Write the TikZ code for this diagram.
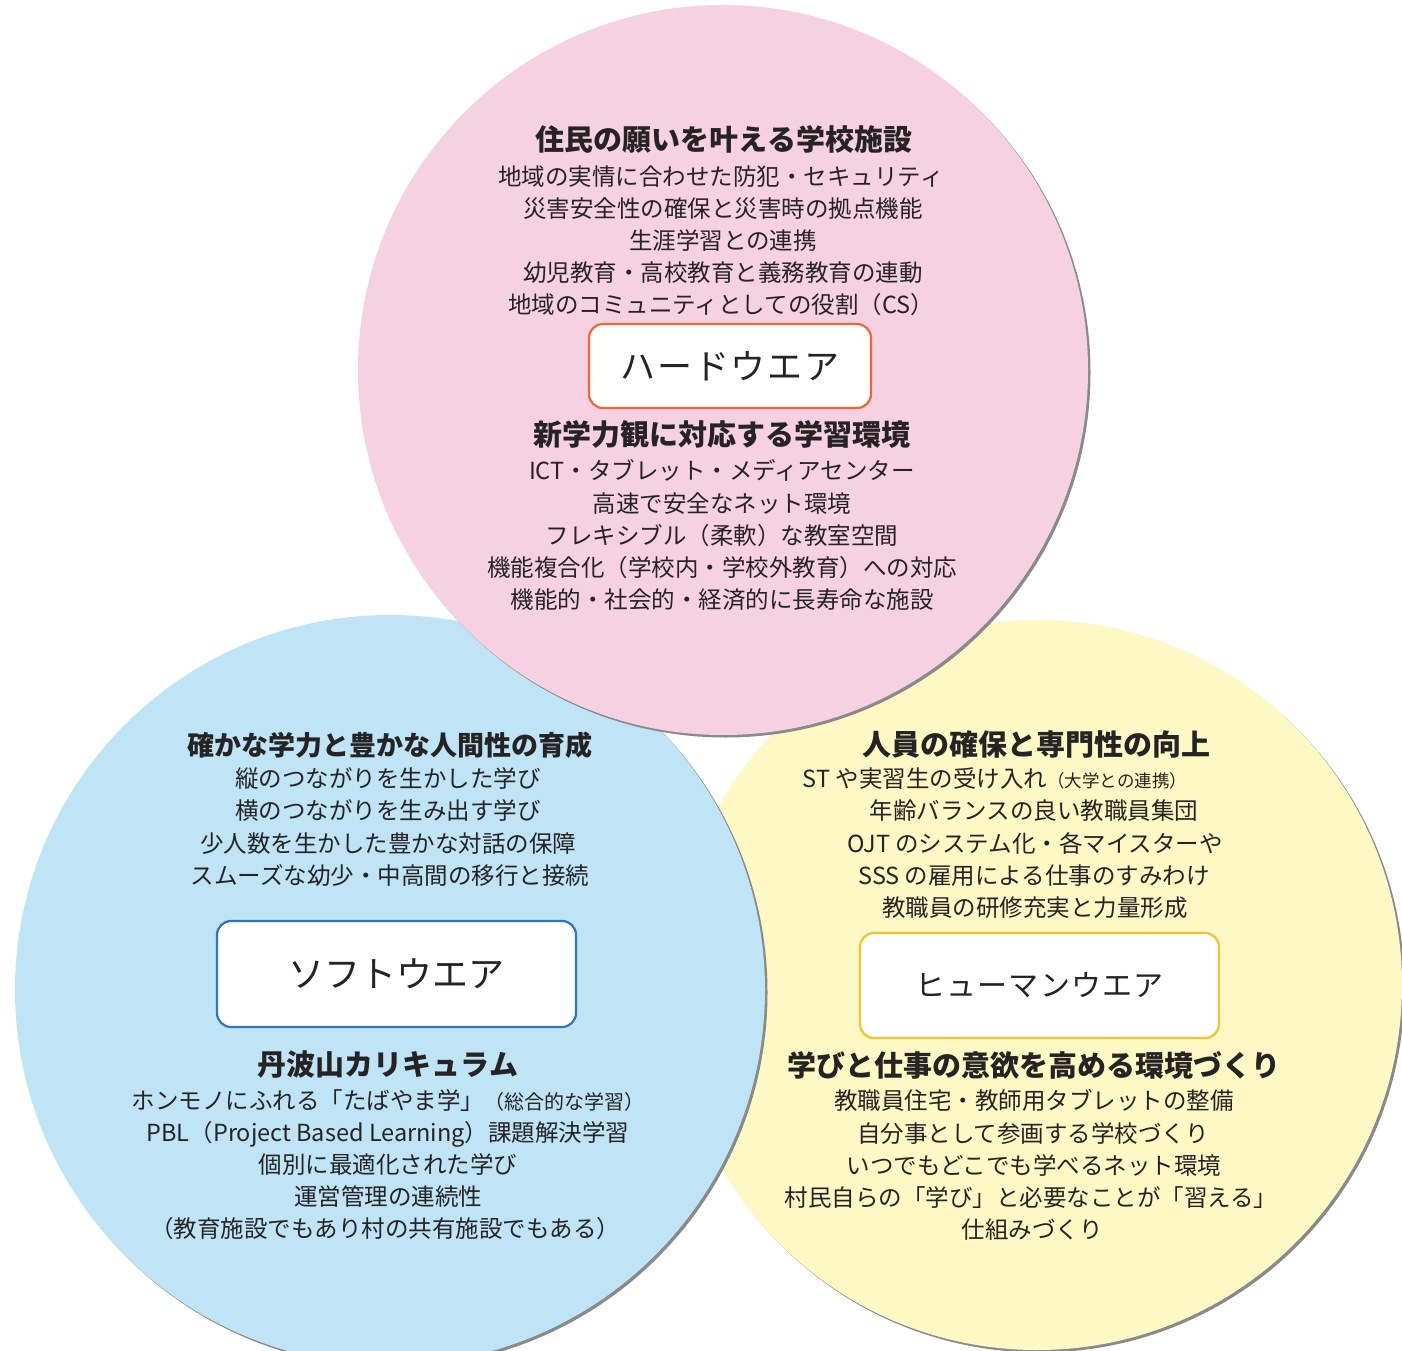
\documentclass[tikz,border=0pt]{standalone}
\usepackage{fontspec}
\newfontfamily\jp{Noto Sans CJK JP}
\definecolor{pinkc}{HTML}{F6D1E2}
\definecolor{bluec}{HTML}{BEE4F6}
\definecolor{yelc}{HTML}{FDF8C4}
\definecolor{txt}{HTML}{262324}
\definecolor{hardline}{HTML}{EA6A35}
\definecolor{softline}{HTML}{2F74BC}
\definecolor{humline}{HTML}{F2C430}
\definecolor{shadowc}{HTML}{8A8A8A}
\tikzset{
  head/.style={font=\jp\bfseries\fontsize{29}{29}\selectfont, text=txt, inner sep=0pt, text height=0.86em, text depth=0.14em, yshift=-7pt},
  body/.style={font=\jp\fontsize{23.5}{23.5}\selectfont, text=txt, inner sep=0pt, text height=0.86em, text depth=0.14em, yshift=-6pt},
  wbox/.style={draw, line width=2.2pt, fill=white, rounded corners=14pt, inner sep=0pt, text=txt},
  shad/.style={fill=shadowc, draw=none}
}
\begin{document}
\begin{tikzpicture}[x=1pt,y=-1pt]
\useasboundingbox (0,0) rectangle (1402,1351);
\fill[white] (0,0) rectangle (1402,1351);
\clip (0,0) rectangle (1402,1351);
% circles (yellow under blue under pink)
\fill[shad] (1039.5,987.5) circle[radius=365];
\fill[yelc] (1037,985) circle[radius=365];
\fill[shad] (392.5,992.5) circle[radius=375];
\fill[bluec] (390,990) circle[radius=375];
\fill[shad] (725.5,372.5) circle[radius=365];
\fill[pinkc] (723,370) circle[radius=365];

% ---- Hardware (pink)
\node[head] (h1) at (724,140) {住民の願いを叶える学校施設};
\node[body] (h1a) at (721,176) {地域の実情に合わせた防犯・セキュリティ};
\node[body] (h1b) at (723,208) {災害安全性の確保と災害時の拠点機能};
\node[body] (h1c) at (723,240) {生涯学習との連携};
\node[body] (h1d) at (723,272) {幼児教育・高校教育と義務教育の連動};
\node[body] (h1e) at (721,304) {地域のコミュニティとしての役割（CS）};
\node[wbox, draw=hardline, minimum width=282pt, minimum height=84pt,
      font=\jp\fontsize{35}{35}\selectfont\addfontfeature{LetterSpace=5}] (hard) at (730,366) {ハードウエア};
\node[head] (h2) at (722,435) {新学力観に対応する学習環境};
\node[body] (h2a) at (722,470) {ICT・タブレット・メディアセンター};
\node[body] (h2b) at (722,503) {高速で安全なネット環境};
\node[body] (h2c) at (722,535) {フレキシブル（柔軟）な教室空間};
\node[body] (h2d) at (722,567) {機能複合化（学校内・学校外教育）への対応};
\node[body] (h2e) at (722,599) {機能的・社会的・経済的に長寿命な施設};

% ---- Software (blue)
\node[head, font=\jp\bfseries\fontsize{27}{27}\selectfont] (s1) at (390,745) {確かな学力と豊かな人間性の育成};
\node[body] (s1a) at (388,778) {縦のつながりを生かした学び};
\node[body] (s1b) at (388,810) {横のつながりを生み出す学び};
\node[body] (s1c) at (388,843) {少人数を生かした豊かな対話の保障};
\node[body] (s1d) at (390,875) {スムーズな幼少・中高間の移行と接続};
\node[wbox, draw=softline, minimum width=359pt, minimum height=106pt,
      font=\jp\fontsize{36}{36}\selectfont] (soft) at (396.5,974) {ソフトウエア};
\node[head] (s2) at (388,1065) {丹波山カリキュラム};
\node[body] (s2a) at (388,1100) {ホンモノにふれる「たばやま学」{\fontsize{20}{20}\selectfont（総合的な学習）}};
\node[body] (s2b) at (388,1132) {PBL（Project Based Learning）課題解決学習};
\node[body] (s2c) at (388,1164) {個別に最適化された学び};
\node[body] (s2d) at (388,1196) {運営管理の連続性};
\node[body] (s2e) at (385,1228) {（教育施設でもあり村の共有施設でもある）};

% ---- Humanware (yellow)
\node[head] (m1) at (1036,745) {人員の確保と専門性の向上};
\node[body] (m1a) at (995,778) {ST や実習生の受け入れ{\fontsize{17.5}{17.5}\selectfont（大学との連携）}};
\node[body] (m1b) at (1034,810) {年齢バランスの良い教職員集団};
\node[body] (m1c) at (1035,843) {OJT のシステム化・各マイスターや};
\node[body] (m1d) at (1034,875) {SSS の雇用による仕事のすみわけ};
\node[body] (m1e) at (1035,907) {教職員の研修充実と力量形成};
\node[wbox, draw=humline, minimum width=359pt, minimum height=105pt,
      font=\jp\fontsize{30}{30}\selectfont\addfontfeature{LetterSpace=4}] (human) at (1039.5,985.5) {ヒューマンウエア};
\node[head] (m2) at (1034,1066) {学びと仕事の意欲を高める環境づくり};
\node[body] (m2a) at (1034,1100) {教職員住宅・教師用タブレットの整備};
\node[body] (m2b) at (1033,1133) {自分事として参画する学校づくり};
\node[body] (m2c) at (1034,1165) {いつでもどこでも学べるネット環境};
\node[body] (m2d) at (1031,1197) {村民自らの「学び」と必要なことが「習える」};
\node[body] (m2e) at (1032,1229) {仕組みづくり};
\end{tikzpicture}
\end{document}
